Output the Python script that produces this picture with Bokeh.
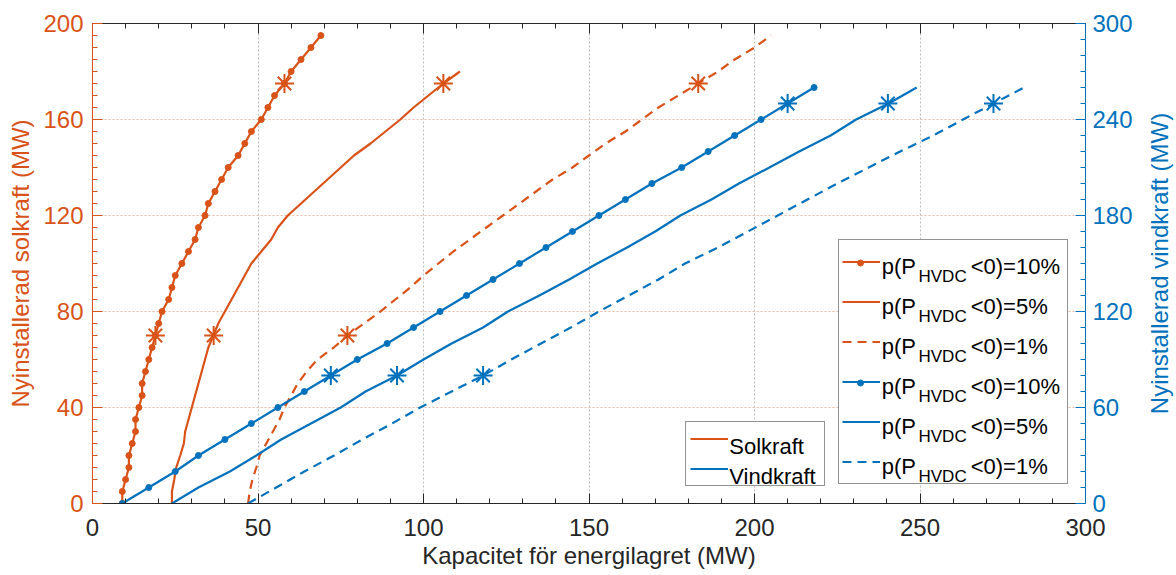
import math
from bokeh.plotting import figure
from bokeh.models import (Range1d, LinearAxis, SingleIntervalTicker, Legend,
                          LegendItem)
from bokeh.embed import file_html
from bokeh.resources import INLINE
from bokeh.core.properties import value

# ---------------- data ----------------
# Solar (left axis, MW) vs storage capacity (x, MW)
sol10_y = [0, 5, 10, 15, 20, 25, 30, 35, 40, 45, 50, 55, 60, 65, 70, 75, 80, 85, 90, 95,
           100, 105, 110, 115, 120, 125, 130, 135, 140, 145, 150, 155, 160, 165, 170, 175,
           180, 185, 190, 195]
sol10_x = [9, 9, 10, 11, 11, 12, 13, 13, 14, 15, 15, 16, 17, 18, 19, 20, 21, 23, 24, 25,
           27, 29, 31, 32, 34, 35, 37, 39, 41, 44, 46, 48, 51, 53, 55, 58, 60, 63, 66, 69]

sol5_y = [0, 5, 10, 15, 20, 25, 30, 35, 40, 45, 50, 55, 60, 65, 70, 75, 80, 85, 90, 95,
          100, 105, 110, 115, 120, 125, 130, 135, 140, 145, 150, 155, 160, 165, 170, 175, 180]
sol5_x = [24, 24, 24.7, 25.3, 26.5, 27.6, 28, 29, 30, 31, 32, 33, 34, 35, 36.5, 38, 40, 42,
          44, 46, 48, 51, 54, 56, 59, 63, 67, 71, 75, 79, 84, 88.5, 93, 97, 101.5, 106, 111]

sol1_y = [0, 5, 10, 15, 20, 25, 30, 35, 40, 45, 50, 55, 60, 65, 70, 75, 80, 85, 90, 95,
          100, 105, 110, 115, 120, 125, 130, 135, 140, 145, 150, 155, 160, 165, 170, 175,
          180, 185, 190, 195]
sol1_x = [47, 47.5, 48.3, 49.5, 50.5, 52.5, 54.5, 56.5, 58, 60, 62, 64.7, 68, 72.9, 77, 82,
          87, 91.5, 96, 100, 104.5, 109, 114, 119, 124, 129, 134, 139, 145, 150, 155, 161,
          166, 171, 177, 183, 189, 194, 200, 205]

# Wind (right axis, MW)
wind_y = [0, 10, 20, 30, 40, 50, 60, 70, 80, 90, 100, 110, 120, 130, 140, 150, 160, 170,
          180, 190, 200, 210, 220, 230, 240, 250, 260]
wind10_x = [9, 17, 25, 32, 40, 48, 56, 64, 72, 80, 89, 97, 105, 113, 121, 129, 137, 145,
            153, 161, 169, 178, 186, 194, 202, 210, 218]
wind5_x = [24, 32, 41.5, 49.5, 57, 66, 75, 82.5, 92, 100, 108.5, 118, 125.5, 135, 144,
           152.5, 161.5, 170, 177.6, 187, 195.3, 204.5, 213.5, 223, 230.7, 240.5, 249]
wind1_x = [47, 55.5, 64, 73, 81.5, 90.5, 99, 108.5, 118, 126.5, 135.5, 144.5, 153, 162, 171,
           179, 189, 198, 207, 216, 225, 234.5, 244, 254, 263, 272.2, 281.4]

# Highlighted points (asterisks)
sol_star_y = [70, 175]
sol10_star_x = [19, 58]
sol5_star_x = [36.6, 106]
sol1_star_x = [77, 183]
wind_star_y = [80, 250]
wind10_star_x = [72, 210]
wind5_star_x = [92, 240.3]
wind1_star_x = [118, 272.2]

legend_pcts = ["10%", "5%", "1%", "10%", "5%", "1%"]
legend_kinds = ["Solkraft", "Vindkraft"]
right_title = "Nyinstallerad vindkraft (MW)"

# ---------------- style ----------------
ORANGE = "#D95319"
BLUE = "#0072BD"
DARK = "#262626"
FONT = "Liberation Sans"
LW = 2.2
DASH = "9 6"

p = figure(width=1176, height=575, output_backend="svg", toolbar_location=None,
           x_range=Range1d(0, 300), y_range=Range1d(0, 200),
           min_border_left=92, min_border_right=91, min_border_top=23,
           min_border_bottom=72, background_fill_color="white",
           border_fill_color="white")
p.outline_line_color = None
p.extra_y_ranges = {"right": Range1d(0, 300)}

xax = p.xaxis[0]
yax = p.yaxis[0]
xax.ticker = SingleIntervalTicker(interval=50, num_minor_ticks=5)
yax.ticker = SingleIntervalTicker(interval=40, num_minor_ticks=8)

rax = LinearAxis(y_range_name="right",
                 ticker=SingleIntervalTicker(interval=60, num_minor_ticks=6))
p.add_layout(rax, "right")
tax = LinearAxis(ticker=SingleIntervalTicker(interval=50, num_minor_ticks=5))
p.add_layout(tax, "above")


def style_axis(ax, color, label=None):
    ax.axis_line_color = color
    ax.major_tick_line_color = color
    ax.minor_tick_line_color = color
    ax.major_tick_in = 10
    ax.major_tick_out = 0
    ax.minor_tick_in = 5
    ax.minor_tick_out = 0
    ax.major_label_text_color = color
    ax.major_label_text_font = FONT
    ax.major_label_text_font_size = "24px"
    ax.axis_label_text_font = FONT
    ax.axis_label_text_font_size = "24px"
    ax.axis_label_text_font_style = "normal"
    ax.axis_label_text_color = color
    if label is not None:
        ax.axis_label = label


style_axis(xax, DARK, "Kapacitet för energilagret (MW)")
style_axis(yax, ORANGE, "Nyinstallerad solkraft (MW)")
style_axis(rax, BLUE)
style_axis(tax, DARK)
tax.major_label_text_font_size = "0px"
tax.major_label_overrides = {v: "" for v in [0, 50, 100, 150, 200, 250, 300]}
tax.major_label_standoff = 0

xax.major_label_standoff = 15
xax.axis_label_standoff = 3
yax.major_label_standoff = 9
yax.axis_label_standoff = 6
rax.major_label_standoff = 7

p.xgrid.grid_line_color = "#BDBDBD"
p.xgrid.grid_line_dash = "2 2"
p.ygrid.grid_line_color = "#EDB9A1"
p.ygrid.grid_line_dash = "2 2"

# ---------------- data renderers ----------------
r_s10 = p.line(sol10_x, sol10_y, line_color=ORANGE, line_width=LW)
r_s10d = p.scatter(sol10_x, sol10_y, marker="circle", size=6, fill_color=ORANGE,
                   line_color=ORANGE)
r_s5 = p.line(sol5_x, sol5_y, line_color=ORANGE, line_width=LW)
r_s1 = p.line(sol1_x, sol1_y, line_color=ORANGE, line_width=LW, line_dash=DASH)

r_w10 = p.line(wind10_x, wind_y, line_color=BLUE, line_width=LW, y_range_name="right")
r_w10d = p.scatter(wind10_x, wind_y, marker="circle", size=6, fill_color=BLUE,
                   line_color=BLUE, y_range_name="right")
r_w5 = p.line(wind5_x, wind_y, line_color=BLUE, line_width=LW, y_range_name="right")
r_w1 = p.line(wind1_x, wind_y, line_color=BLUE, line_width=LW, line_dash=DASH,
              y_range_name="right")

for sx in [sol10_star_x, sol5_star_x, sol1_star_x]:
    p.scatter(sx, sol_star_y, marker="asterisk", size=19, line_color=ORANGE, line_width=2)
for wx in [wind10_star_x, wind5_star_x, wind1_star_x]:
    p.scatter(wx, wind_star_y, marker="asterisk", size=19, line_color=BLUE, line_width=2,
              y_range_name="right")

# right axis title, reading bottom-to-top (placed beside the right axis)
p.text(x=[322.4], y=[150], text=[right_title], y_range_name="right", angle=math.pi / 2,
       text_align="center", text_baseline="middle", text_font=value(FONT),
       text_font_size=value("24px"), text_color=BLUE, level="overlay")

# invisible renderer used only to carry legend text
r_blank = p.line(x=[], y=[], line_alpha=0)

# ---------------- legends ----------------
blank = value(" ")
box_style = dict(orientation="vertical", margin=0, border_line_color=DARK,
                 border_line_width=1, background_fill_color="white",
                 background_fill_alpha=1.0, label_text_font_size="10px", level="guide")
clear_style = dict(orientation="vertical", margin=0, padding=0, border_line_alpha=0,
                   background_fill_alpha=0, glyph_width=1, label_standoff=0,
                   label_text_font=FONT, label_text_color="black",
                   label_text_baseline="alphabetic", level="annotation")

leg_kind = Legend(items=[LegendItem(label=blank, renderers=[r_s5]),
                         LegendItem(label=blank, renderers=[r_w5])],
                  location=(593, 17), glyph_width=38, glyph_height=25, label_height=25,
                  label_width=90, label_standoff=2, spacing=5, padding=4, **box_style)
p.add_layout(leg_kind, "center")

leg_main = Legend(items=[LegendItem(label=blank, renderers=[r]) for r in
                         [r_s10, r_s5, r_s1, r_w10, r_w5, r_w1]],
                  location=(746, 19), glyph_width=38, glyph_height=37, label_height=37,
                  label_width=182, label_standoff=2, spacing=3, padding=3, **box_style)
p.add_layout(leg_main, "center")

leg_dots = Legend(items=[LegendItem(label=blank, renderers=[r_s10d]),
                         LegendItem(label=blank, renderers=[r_w10d])],
                  location=(745, 109), orientation="vertical", glyph_width=38,
                  glyph_height=15, label_height=15, label_width=1, label_standoff=2,
                  spacing=105, padding=4, margin=0, border_line_alpha=0,
                  background_fill_alpha=0, label_text_font_size="6px", level="guide")
p.add_layout(leg_dots, "center")

# legend texts (main text, subscript, remainder)
leg_t1 = Legend(items=[LegendItem(label=value("p(P"), renderers=[r_blank])
                       for _ in legend_pcts],
                location=(788.7, 21.5), glyph_height=30, label_height=30, spacing=10,
                label_text_font_size="22px", **clear_style)
p.add_layout(leg_t1, "center")
leg_t2 = Legend(items=[LegendItem(label=value("HVDC"), renderers=[r_blank])
                       for _ in legend_pcts],
                location=(825.5, 11.5), glyph_height=30, label_height=30, spacing=10,
                label_text_font_size="17px", **clear_style)
p.add_layout(leg_t2, "center")
leg_t3 = Legend(items=[LegendItem(label=value("<0)=" + pct), renderers=[r_blank])
                       for pct in legend_pcts],
                location=(877.7, 21.5), glyph_height=30, label_height=30, spacing=10,
                label_text_font_size="22px", **clear_style)
p.add_layout(leg_t3, "center")
leg_tk = Legend(items=[LegendItem(label=value(k), renderers=[r_blank])
                       for k in legend_kinds],
                location=(636.3, 12.3), glyph_height=28, label_height=28, spacing=2,
                label_text_font_size="22px", **clear_style)
p.add_layout(leg_tk, "center")

open("out.html", "w").write(file_html(p, INLINE))
